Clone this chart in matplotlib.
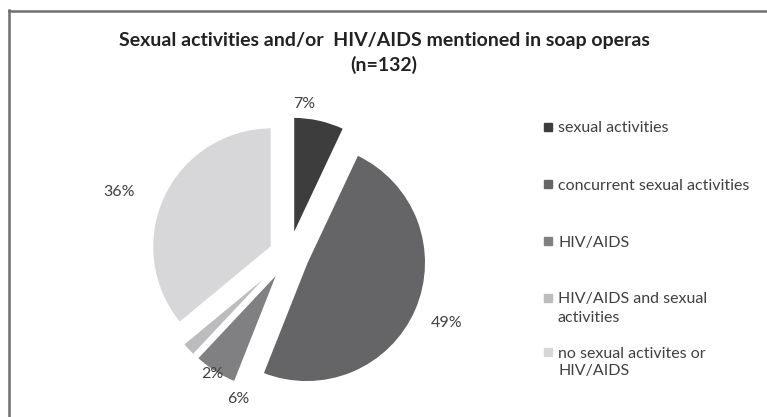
import numpy as np
import matplotlib
matplotlib.use('Agg')
import matplotlib.pyplot as plt
from matplotlib.lines import Line2D
from matplotlib.patches import Rectangle

plt.rcParams['font.family'] = ['Lato', 'DejaVu Sans']

title = 'Sexual activities and/or  HIV/AIDS mentioned in soap operas\n(n=132)'
categories = ['sexual activities', 'concurrent sexual activities', 'HIV/AIDS',
              'HIV/AIDS and sexual\nactivities', 'no sexual activites or\nHIV/AIDS']
shares = [7, 49, 6, 2, 36]
colors = ['#3d3d3d', '#656567', '#808083', '#bcbcbf', '#d7d7d9']
text_col = '#404040'

fig = plt.figure(figsize=(7.67, 4.17), dpi=100)
W, H = 767, 417

# pie centre (px from left / from bottom) and radius in px
cx, cy, rad = 289, 162, 119.5
lim = 1.35
side = 2 * lim * rad
ax = fig.add_axes([(cx - side / 2) / W, (cy - side / 2) / H, side / W, side / H])

wedges, _ = ax.pie(shares, colors=colors, startangle=90, counterclock=False,
                   explode=[0.16] * len(shares),
                   wedgeprops=dict(edgecolor='white', linewidth=1.5))
ax.set_xlim(-lim, lim)
ax.set_ylim(-lim, lim)
ax.set_aspect('equal')
ax.axis('off')

# percentage labels: radius and clockwise angle shift (deg) against wedge middle
lab_r = [1.27, 1.44, 1.28, 1.18, 1.52]
lab_shift = [-7, 0, -13, -14, -5]
for w, s, r, d in zip(wedges, shares, lab_r, lab_shift):
    mid = np.deg2rad((w.theta1 + w.theta2) / 2 - d)
    ax.text(r * np.cos(mid), r * np.sin(mid), f'{s}%', ha='center', va='center',
            fontsize=11.5, color=text_col, clip_on=False)

fig.text(384 / W, 1 - 53 / H, title, ha='center', va='center', fontsize=14,
         fontweight='bold', color='#222222', linespacing=1.4)

# legend on the right (y = centre of first text line, px from top)
leg_y = [127, 184, 241, 298, 352]
line_gap = 18
for lab, col, y in zip(categories, colors, leg_y):
    fig.patches.append(Rectangle((544 / W, 1 - (y + 4) / H), 8 / W, 8 / H,
                                 transform=fig.transFigure, color=col))
    for i, part in enumerate(lab.split('\n')):
        fig.text(558 / W, 1 - (y + i * line_gap + 5.5) / H, part, ha='left',
                 va='baseline', fontsize=11.5, color=text_col)

# frame lines on top and left
fig.add_artist(Line2D([8.5 / W, 8.5 / W], [0, 1 - 10 / H], color='#6e6e6e', lw=1.8,
                      transform=fig.transFigure))
fig.add_artist(Line2D([8.5 / W, 1], [1 - 10.5 / H, 1 - 10.5 / H], color='#6e6e6e', lw=1.8,
                      transform=fig.transFigure))

fig.savefig('out.png', dpi=100, facecolor='white')
